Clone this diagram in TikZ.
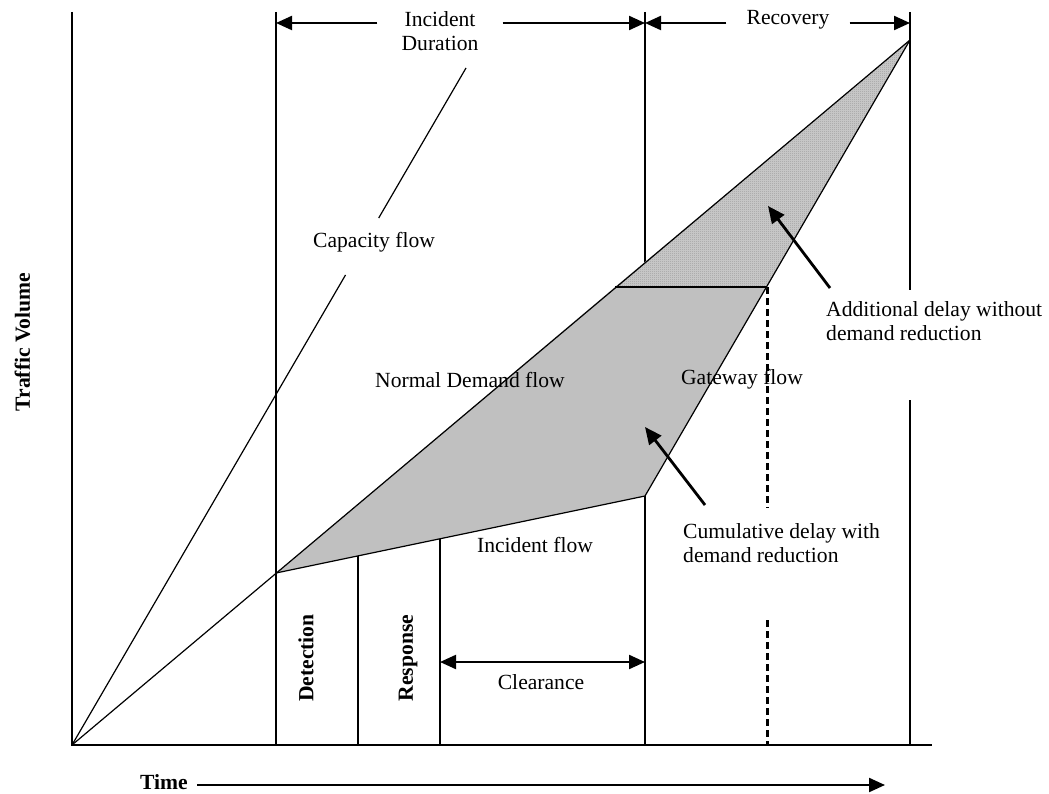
\documentclass[tikz,border=0pt]{standalone}
\usepackage{fontspec}
\setmainfont{Liberation Serif}
\usetikzlibrary{arrows.meta,patterns.meta}
\tikzdeclarepattern{name=stipple,type=uncolored,bounding box={(0pt,0pt) and (2pt,2pt)},tile size={(2pt,2pt)},code={\fill (0pt,0pt) rectangle (1pt,1pt);}}
\definecolor{shadegray}{HTML}{C0C0C0}
\definecolor{shadelight}{HTML}{C6C6C6}
\begin{document}
\begin{tikzpicture}[x=1pt,y=-1pt,
  lbl/.style={font=\fontsize{21.6pt}{24.5pt}\selectfont, inner sep=0pt},
  blbl/.style={font=\fontsize{21.6pt}{24.5pt}\selectfont\bfseries, inner sep=0pt},
  thinline/.style={line width=1.2pt},
  axisline/.style={line width=1.7pt},
  dimarrow/.style={line width=2.2pt, -{Triangle[length=16pt,width=14pt]}},
  dimboth/.style={line width=2.2pt, {Triangle[length=16pt,width=14pt]}-{Triangle[length=16pt,width=14pt]}},
  pointer/.style={line width=2.8pt, -{Triangle[length=17pt,width=15pt]}},
  dashline/.style={line width=3pt, dash pattern=on 7pt off 4pt},
  ]
\useasboundingbox (0,0) rectangle (1049,794);

% key points
\coordinate (O) at (72,745);
\coordinate (yTop) at (72,12);
\coordinate (xEnd) at (932,745);
\coordinate (A) at (276,573);
\coordinate (B) at (645,496);
\coordinate (C) at (615,287);
\coordinate (D) at (767,287);
\coordinate (T) at (910,40);
\coordinate (capTop) at (466,68);
\coordinate (capLo) at (345.5,275);
\coordinate (capHi) at (378.7,218);

% vertical lines
\draw[thinline] (276,12) -- (276,745);
\draw[thinline] (358,556) -- (358,745);
\draw[thinline] (440,539) -- (440,745);
\draw[thinline] (645,12) -- (645,745);
\draw[thinline] (910,12) -- (910,290);
\draw[thinline] (910,400) -- (910,745);
\draw[dashline] (D) -- (767,508);
\draw[dashline] (767,620) -- (767,745);

% shaded regions
\fill[shadegray] (A) -- (C) -- (D) -- (B) -- cycle;
\fill[shadelight] (C) -- (T) -- (D) -- cycle;
\fill[pattern=stipple, pattern color=gray!90] (C) -- (T) -- (D) -- cycle;

% flow lines
\draw[thinline] (O) -- (T);
\draw[thinline] (A) -- (B) -- (T);
\draw[line width=2pt] (C) -- (D);
\draw[thinline] (O) -- (capLo);
\draw[thinline] (capHi) -- (capTop);

% axes
\draw[axisline] (yTop) -- (O) -- (xEnd);

% top dimension labels
\node[lbl, align=center, inner xsep=24pt, inner ysep=2pt] (incdur) at (440,31) {Incident\\Duration};
\node[lbl, inner xsep=20pt, inner ysep=2pt] (recov) at (788,20) {Recovery};
\coordinate (dA) at (276,23);
\coordinate (dB) at (645,23);
\coordinate (dC) at (910,23);
\draw[dimarrow] (incdur.west |- dA) -- (dA);
\draw[dimarrow] (incdur.east |- dA) -- (dB);
\draw[dimarrow] (recov.west |- dB) -- (dB);
\draw[dimarrow] (recov.east |- dC) -- (dC);

% clearance
\coordinate (clA) at (440,662);
\coordinate (clB) at (645,662);
\draw[dimboth] (clA) -- (clB);
\node[lbl] (clr) at (541,682) {Clearance};

% texts
\node[lbl] (cap) at (374,242) {Capacity flow};
\node[lbl] (nd) at (470,380) {Normal Demand flow};
\node[lbl] (gw) at (742,379) {Gateway flow};
\node[lbl] (inc) at (535,545) {Incident flow};
\node[blbl, rotate=90] (det) at (306,658) {Detection};
\node[blbl, rotate=90] (resp) at (408,658) {Response};
\node[blbl, rotate=90] (tv) at (22.5,342) {Traffic Volume};
\node[blbl, anchor=east] (time) at (188,782) {Time};
\node[lbl, align=left, anchor=west] (add) at (826,321) {Additional delay without\\demand reduction};
\node[lbl, align=left, anchor=west] (cum) at (683,543) {Cumulative delay with\\demand reduction};

% pointers
\coordinate (addTail) at (830,288);
\coordinate (addHead) at (768,206);
\coordinate (cumTail) at (705,505);
\coordinate (cumHead) at (645,427);
\draw[pointer] (addTail) -- (addHead);
\draw[pointer] (cumTail) -- (cumHead);

% time arrow
\coordinate (tA) at (197,785);
\coordinate (tB) at (885,785);
\draw[dimarrow] (tA) -- (tB);
\end{tikzpicture}
\end{document}
